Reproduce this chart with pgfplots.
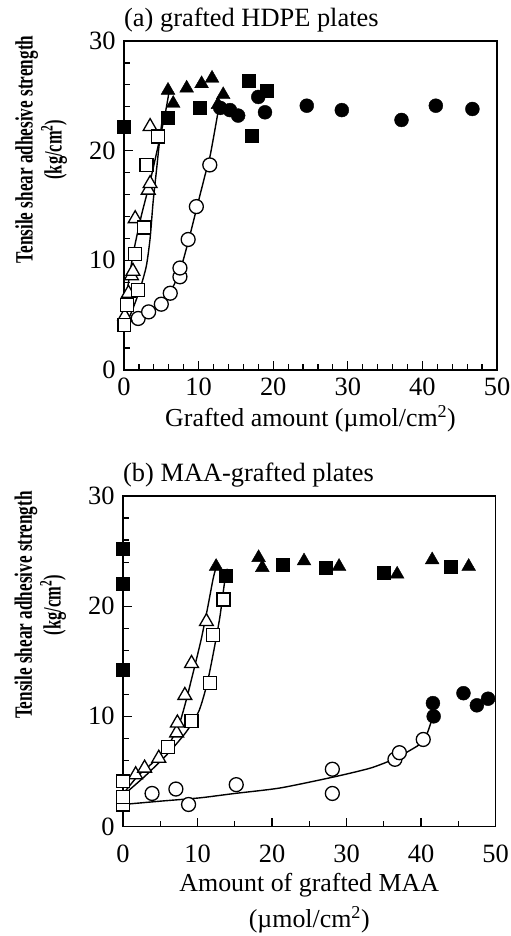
\documentclass[border=0pt]{standalone}
\usepackage{pgfplots}
\pgfplotsset{compat=1.18}
\usepackage{graphicx}
\usepackage{fontspec}
\setmainfont{Liberation Serif}
\pgfplotsset{
  panel/.style={
    scale only axis, clip=false,
    xmin=0, xmax=50, ymin=0, ymax=30,
    axis line style={line width=1.6bp},
    tick style={line width=1.2bp, black},
    tick align=inside, xtick pos=bottom, ytick pos=left,
    major tick length=9bp, minor tick length=6bp,
    xtick={0,10,...,50}, ytick={0,10,20,30},
    minor y tick num=4,
    ticklabel style={font=\fontsize{26.5}{26.5}\selectfont},
    yticklabel style={xshift=-5bp},
    /pgf/number format/assume math mode=true,
    title style={font=\fontsize{26.5}{28}\selectfont, at={(0,1)}, anchor=base west, inner sep=0pt, yshift=9bp},
    ylabel={\scalebox{0.69}[1]{Tensile shear adhesive strength}\\\scalebox{0.66}[1]{(kg/cm\textsuperscript{2})}},
    ylabel style={align=center, font=\bfseries\fontsize{25}{29}\selectfont, at={(axis description cs:-0.222,0.67)}, anchor=center},
  },
  curve/.style={black, line width=1.4bp, smooth, tension=0.4, mark=none},
  fsq/.style={only marks, mark=square*, mark size=6.5, mark options={fill=black, draw=black}},
  osq/.style={only marks, mark=square*, mark size=6.5, mark options={fill=white, draw=black, line width=1.3bp}},
  ftr/.style={only marks, mark=triangle*, mark size=8, mark options={fill=black, draw=black}},
  otr/.style={only marks, mark=triangle*, mark size=8, mark options={fill=white, draw=black, line width=1.3bp}},
  fci/.style={only marks, mark=*, mark size=7, mark options={fill=black, draw=black}},
  oci/.style={only marks, mark=*, mark size=7, mark options={fill=white, draw=black, line width=1.3bp}},
}
\begin{document}
\begin{tikzpicture}
\path[use as bounding box] (0,0) rectangle (511bp,-936bp);
% ---------------- panel (a)
\begin{axis}[panel, at={(124bp,-41bp)}, anchor=north west, width=373bp, height=329bp,
  minor x tick num=4,
  xticklabel shift=4bp,
  title={(a) grafted HDPE plates},
  xlabel={Grafted amount (µmol/cm\textsuperscript{2})},
  xlabel style={font=\fontsize{26}{28}\selectfont, at={(axis description cs:0.5,-0.148)}, anchor=center},
]
\addplot[curve] coordinates {(0,4.2) (0.3,6.6) (1.2,10.5) (2.3,14.0) (3.5,17.2) (4.5,20.2) (5.5,23.3) (6.0,25.2)};
\addplot[curve] coordinates {(0.3,4.2) (1.2,5.6) (2.2,7.5) (3.0,9.5) (3.5,12) (3.9,15.3) (4.4,18.5) (4.8,21.1) (5.2,23.2)};
\addplot[curve] coordinates {(0.5,4.3) (2,4.7) (4,5.5) (5.5,6.4) (6.8,7.9) (7.8,9.7) (8.8,12.2) (9.8,14.9) (10.8,17.6) (11.5,19.4) (12,21.2) (12.6,23.5)};
\addplot[oci] coordinates {(1.9,4.7) (3.3,5.3) (5.0,6.0) (6.2,7.0) (7.5,8.5) (7.5,9.3) (8.6,11.9) (9.7,14.9) (11.5,18.7)};
\addplot[otr] coordinates {(0.1,4.9) (0.6,7.0) (1.0,8.6) (1.2,9.0) (1.5,13.8) (3.25,16.4) (3.5,17.0) (3.5,22.2)};
\addplot[osq] coordinates {(0.05,4.1) (0.4,5.9) (1.9,7.3) (1.5,10.6) (2.65,13.0) (3.0,18.7) (4.6,21.3)};
\addplot[fsq] coordinates {(0,22.2) (5.9,23.0) (10.2,23.9) (16.7,26.4) (17.1,21.4) (19.1,25.5)};
\addplot[ftr] coordinates {(5.9,25.5) (6.6,24.3) (8.4,25.7) (10.4,26.1) (11.8,26.6) (13.3,25.1) (12.6,24.2)};
\addplot[fci] coordinates {(12.9,23.9) (14.2,23.7) (15.3,23.2) (18.0,24.9) (18.9,23.5) (24.5,24.1) (29.2,23.7) (37.2,22.8) (41.8,24.1) (46.7,23.8)};
\end{axis}
% ---------------- panel (b)
\begin{axis}[panel, at={(123bp,-496bp)}, anchor=north west, width=372.5bp, height=330.5bp,
  minor x tick num=1,
  xticklabel shift=15bp,
  title={(b) MAA-grafted plates},
  xlabel={Amount of grafted MAA\\(µmol/cm\textsuperscript{2})},
  xlabel style={align=center, font=\fontsize{26}{37}\selectfont, at={(axis description cs:0.5,-0.232)}, anchor=center},
]
\addplot[curve] coordinates {(0.3,3.2) (2,4.6) (4,5.8) (6,7.3) (7.5,9.2) (8.5,11.5) (9.5,14.2) (10.5,17) (11.4,20) (12.1,22.5) (12.6,23.8)};
\addplot[curve] coordinates {(0.3,3.0) (3,4.6) (6,6.6) (8.5,8.6) (10.2,10.5) (11.3,13) (12.2,16) (13,19) (13.6,22) (14,23.4)};
\addplot[curve] coordinates {(0,2.0) (5,2.3) (10.3,2.6) (15,3.0) (21.1,3.5) (28.3,4.5) (33.2,5.3) (36.3,6.1) (38.5,6.9) (40.4,7.8) (41.5,9.8) (41.9,11)};
\addplot[oci] coordinates {(3.9,3.0) (7.1,3.4) (8.8,2.0) (15.2,3.8) (28.1,5.2) (28.1,3.0) (36.5,6.1) (37.1,6.7) (40.3,7.9)};
\addplot[otr] coordinates {(1.7,4.7) (2.9,5.3) (4.8,6.2) (7.2,8.5) (7.3,9.4) (8.3,11.9) (9.2,14.8) (11.2,18.6)};
\addplot[osq] coordinates {(0,2.0) (0,2.7) (0,4.1) (6.0,7.2) (9.2,9.6) (11.7,13.0) (12.1,17.4) (13.5,20.6)};
\addplot[fsq] coordinates {(0,25.2) (0,22.0) (0,14.2) (13.8,22.8) (21.4,23.8) (27.2,23.5) (35.0,23.0) (44.0,23.6)};
\addplot[ftr] coordinates {(12.5,23.6) (18.2,24.4) (18.7,23.5) (24.3,24.1) (29.0,23.6) (36.8,22.9) (41.5,24.2) (46.4,23.6)};
\addplot[fci] coordinates {(41.6,11.2) (41.7,10.0) (45.7,12.1) (47.5,11.0) (49.0,11.6)};
\end{axis}
\end{tikzpicture}
\end{document}
